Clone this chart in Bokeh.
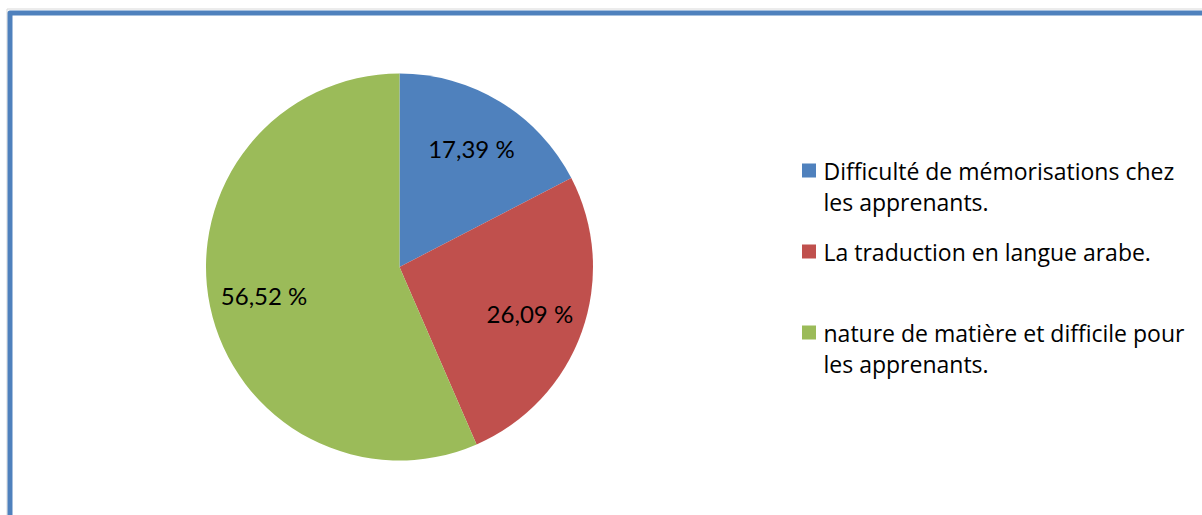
import math
from bokeh.plotting import figure
from bokeh.models import Range1d
from bokeh.core.properties import value
from bokeh.embed import file_html
from bokeh.resources import INLINE

# ---- data ----
categories = [
    "Difficulté de mémorisations chez\nles apprenants.",
    "La traduction en langue arabe.",
    "nature de matière et difficile pour\nles apprenants.",
]
percentages = [17.39, 26.09, 56.52]
pct_labels = ["17,39 %", "26,09 %", "56,52 %"]
colors = ["#4F81BD", "#C0504D", "#9BBB59"]

W, H = 1202, 515
p = figure(width=W, height=H, x_range=Range1d(0, W), y_range=Range1d(0, H),
           output_backend="svg", toolbar_location=None, min_border=0,
           x_axis_location=None, y_axis_location=None)
p.grid.visible = False
p.outline_line_color = None
p.background_fill_color = "white"
p.border_fill_color = "white"

# frame border (top and left visible within the window)
p.line(x=[6.5, 6.5, W], y=[0, H - 8.5, H - 8.5], line_color="#D9D9D9",
       line_width=1)
p.line(x=[9.5, 9.5, W], y=[0, H - 12.5, H - 12.5], line_color="#4F81BD",
       line_width=5, line_join="round")

# pie
cx, cy, r = 399, 248.5, 193.5
total = sum(percentages)
start = math.pi / 2
starts, ends, mids = [], [], []
for v in percentages:
    sweep = 2 * math.pi * v / total
    starts.append(start)
    ends.append(start - sweep)
    mids.append(start - sweep / 2)
    start -= sweep

p.wedge(x=[cx] * 3, y=[cy] * 3, radius=r, start_angle=starts, end_angle=ends,
        direction="clock", fill_color=colors, line_color=None)

lr = 0.715 * r
lx = [cx + lr * math.cos(m) for m in mids]
ly = [cy + lr * math.sin(m) for m in mids]
p.text(x=lx, y=ly, text=pct_labels, text_align="center", text_baseline="middle",
       text_font=value("Lato"), text_font_size="24px", text_color="black")

# legend
sq_x, txt_x = 808.5, 823
item_y0, item_step, line_step = 345, 81, 31.5
tx, ty, tt = [], [], []
sqy = []
for i, lab in enumerate(categories):
    y0 = item_y0 - i * item_step
    sqy.append(y0)
    for k, line in enumerate(lab.split("\n")):
        tx.append(txt_x)
        ty.append(y0 - k * line_step)
        tt.append(line)
p.rect(x=[sq_x] * 3, y=sqy, width=14, height=14, fill_color=colors, line_color=None)
p.text(x=tx, y=ty, text=tt, text_align="left", text_baseline="middle",
       text_font=value("Open Sans"), text_font_size="23px", text_color="black")

open("out.html", "w").write(file_html(p, INLINE))
